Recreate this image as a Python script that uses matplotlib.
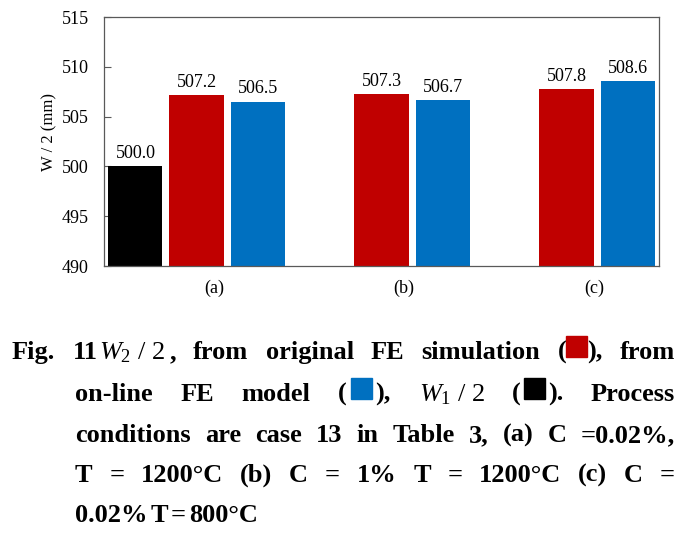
import numpy as np
import matplotlib
matplotlib.use("Agg")
import matplotlib.pyplot as plt
from matplotlib.patches import Rectangle

plt.rcParams["font.family"] = ["Liberation Serif", "DejaVu Sans"]
plt.rcParams["mathtext.fontset"] = "custom"
plt.rcParams["mathtext.it"] = "Liberation Serif:italic"
plt.rcParams["mathtext.rm"] = "Liberation Serif"

# data
categories = ["(a)", "(b)", "(c)"]
w1_half = [500.0, np.nan, np.nan]
fe_original = [507.2, 507.3, 507.8]
fe_online = [506.5, 506.7, 508.6]
yticks = [490, 495, 500, 505, 510, 515]

black = "#000000"
red = "#C00000"
blue = "#0070C0"
spine_gray = "#595959"

W, H = 695, 536
fig = plt.figure(figsize=(W / 100, H / 100), dpi=100)
ax = fig.add_axes([104 / W, 1 - 266 / H, (659 - 104) / W, (266 - 17) / H])

x = np.arange(len(categories))
bar_w = 0.292
step = 0.33
for i, (vals, col) in enumerate([(w1_half, black), (fe_original, red), (fe_online, blue)]):
    vals = np.array(vals)
    ok = ~np.isnan(vals)
    bars = ax.bar(x[ok] + (i - 1) * step, vals[ok], bar_w, color=col, zorder=2)
    ax.bar_label(bars, fmt="%.1f", padding=3, fontsize=13)

ax.set_xlim(-0.5, 2.5)
ax.set_ylim(490, 515)
ax.set_yticks(yticks)
# category labels sit a little right of the group centres in the original
ax.set_xticks(x + np.array([0.095, 0.12, 0.15]))
ax.set_xticklabels(categories)
ax.tick_params(axis="y", direction="in", length=5, pad=11, labelsize=13, color=spine_gray)
ax.tick_params(axis="x", length=0, pad=10, labelsize=13)
for s in ax.spines.values():
    s.set_color(spine_gray)
    s.set_linewidth(0.9)

fig.text(49 / W, 1 - 132 / H, "W / 2 (mm)", rotation=90, ha="center", va="center", fontsize=12)

# caption, justified like the printed figure
FS = 19
SQ = 21
caption = [
    [[("b", "Fig.")], [("b", "11"), ("gap", 2), ("m", "$W_2$ / 2"), ("gap", 4), ("b", ",")],
     [("b", "from")], [("b", "original")], [("b", "FE")], [("b", "simulation")],
     [("b", "("), ("sq", red), ("b", "),")], [("b", "from")]],
    [[("b", "on-line")], [("b", "FE")], [("b", "model")],
     [("b", "("), ("gap", 4), ("sq", blue), ("gap", 4), ("b", "),")],
     [("m", "$W_1$ / 2")], [("b", "("), ("gap", 3), ("sq", black), ("gap", 3), ("b", ").")],
     [("b", "Process")]],
    [[("b", w)] for w in "conditions are case 13 in Table 3, (a) C =0.02%,".split()],
    [[("b", w)] for w in "T = 1200°C (b) C = 1% T = 1200°C (c) C =".split()],
    [[("b", w)] for w in "0.02% T = 800°C".split()],
]
starts = [12, 75, 75, 75, 75]
baselines = [359, 401, 442, 482, 522]
right = 675

renderer = fig.canvas.get_renderer()


def piece_width(kind, val):
    if kind == "gap":
        return val
    if kind == "sq":
        return SQ
    t = fig.text(0, 0, val, fontsize=FS, fontweight="bold" if kind == "b" else "normal")
    w = t.get_window_extent(renderer).width
    t.remove()
    return w


for li, words in enumerate(caption):
    widths = [[piece_width(k, v) for k, v in word] for word in words]
    total = sum(sum(w) for w in widths)
    last = li == len(caption) - 1
    gap = 3 if last else (right - starts[li] - total) / (len(words) - 1)
    xp = starts[li]
    yb = baselines[li]
    for word, ws in zip(words, widths):
        for (kind, val), w in zip(word, ws):
            if kind == "sq":
                fig.add_artist(Rectangle((xp / W, 1 - (yb - 2) / H), SQ / W, SQ / H,
                                         transform=fig.transFigure, color=val))
            elif kind != "gap":
                fig.text(xp / W, 1 - yb / H, val, fontsize=FS, va="baseline", ha="left",
                         fontweight="bold" if kind == "b" else "normal")
            xp += w
        xp += gap

fig.savefig("out.png", dpi=100)
